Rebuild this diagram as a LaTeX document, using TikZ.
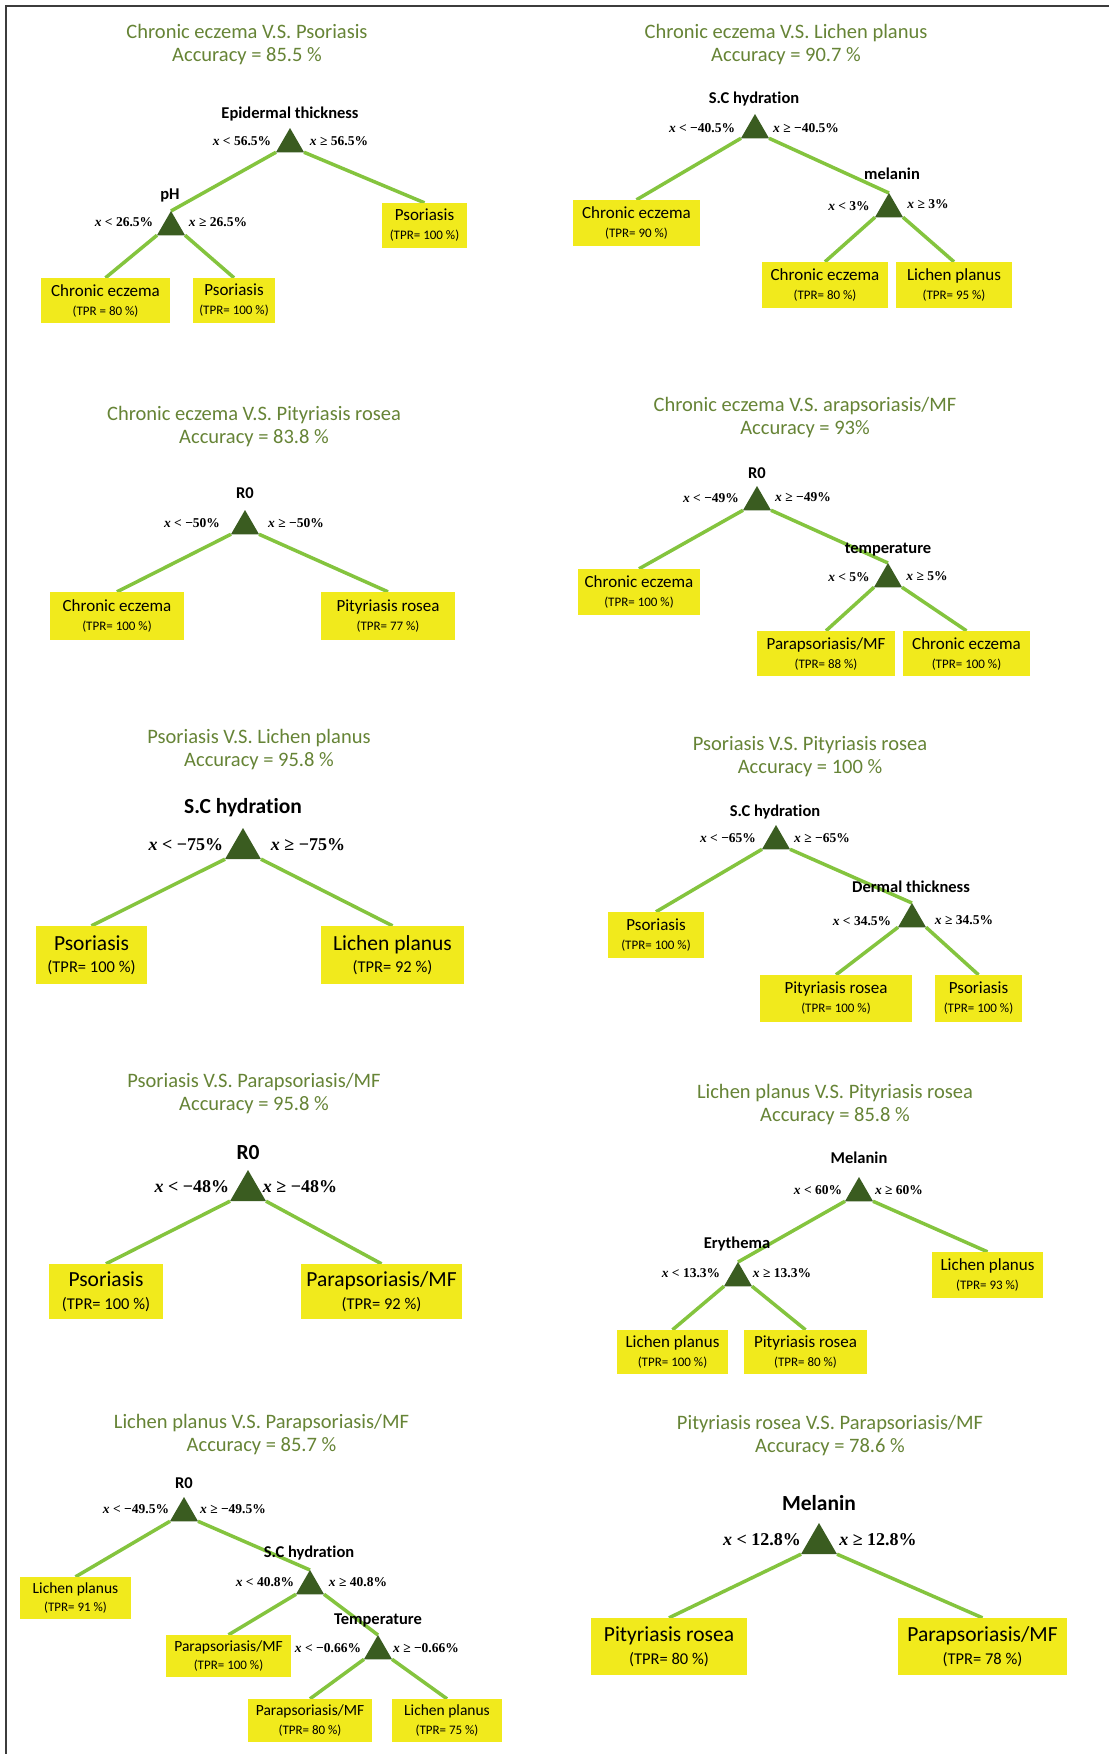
\documentclass[tikz,border=0pt]{standalone}
\usepackage{fontspec}
\setmainfont{Carlito}[Ligatures={NoCommon}]
\newfontfamily\thrfont{Liberation Serif}
\usetikzlibrary{shapes.geometric,backgrounds}
\definecolor{ttlgreen}{RGB}{102,132,54}
\definecolor{dkgreen}{RGB}{58,92,32}
\definecolor{edgegreen}{RGB}{132,196,62}
\definecolor{leafyellow}{RGB}{241,234,28}
\definecolor{framegray}{RGB}{60,60,60}
\newcommand{\xlt}[1]{\textit{x} < #1}
\newcommand{\xge}[1]{\textit{x} ≥ #1}
\newcommand{\leafTxt}[2]{#1\\{\fontsize{13}{19}\selectfont #2}}
\newcommand{\leafTxtL}[2]{#1\\{\fontsize{16.5}{22.5}\selectfont #2}}
\begin{document}
\begin{tikzpicture}[x=1pt,y=-1pt,
  ttl/.style={text=ttlgreen, font=\fontsize{20.5}{23}\selectfont, align=center, inner sep=0pt},
  attr/.style={font=\bfseries\fontsize{16.5}{18}\selectfont, inner sep=0pt},
  attrL/.style={font=\bfseries\fontsize{21.5}{23}\selectfont, inner sep=0pt},
  thr/.style={font=\thrfont\bfseries\fontsize{13.5}{15}\selectfont, inner sep=0pt},
  thrL/.style={font=\thrfont\bfseries\fontsize{18}{20}\selectfont, inner sep=0pt},
  tri/.style={regular polygon, regular polygon sides=3, fill=dkgreen, inner sep=0pt, outer sep=0pt, minimum size=32.33pt, anchor=corner 1},
  triL/.style={tri, minimum size=41.57pt},
  leaf/.style={fill=leafyellow, inner sep=0pt, align=center, font=\fontsize{17}{19}\selectfont},
  leafS/.style={leaf, font=\fontsize{15.5}{18.5}\selectfont},
  leafL/.style={fill=leafyellow, inner sep=0pt, align=center, font=\fontsize{21.5}{22.5}\selectfont},
  edge/.style={draw=edgegreen, line width=3.5pt},
  frame/.style={draw=framegray, line width=2pt}
]
\useasboundingbox (0,0) rectangle (1109,1754);
\begin{scope}[on background layer]
\fill[white] (0,0) rectangle (1109,1754);
\end{scope}
\draw[frame] (6,1754) -- (6,6) -- (1109,6);

% ---------- Tree 1 ----------
\node[ttl] (ttl1) at (247,44.5) {Chronic eczema V.S. Psoriasis\\Accuracy = 85.5 \%};
\node[attr] (a1a) at (290,114) {Epidermal thickness};
\node[tri] (t1a) at (290,128) {};
\node[thr] (c1a) at (242,141) {\xlt{56.5\%}};
\node[thr] (c1b) at (339,141) {\xge{56.5\%}};
\node[attr] (a1b) at (170,195) {pH};
\node[tri] (t1b) at (171,211) {};
\node[thr] (c1c) at (124,222) {\xlt{26.5\%}};
\node[thr] (c1d) at (218,222) {\xge{26.5\%}};
\node[leaf, minimum width=129, minimum height=45] (l1a) at (105.5,300.5) {\leafTxt{Chronic eczema}{(TPR = 80 \%)}};
\node[leaf, minimum width=82, minimum height=45] (l1b) at (234,300.5) {\leafTxt{Psoriasis}{(TPR= 100 \%)}};
\node[leaf, minimum width=85, minimum height=45] (l1c) at (424.5,225.5) {\leafTxt{Psoriasis}{(TPR= 100 \%)}};

% ---------- Tree 2 ----------
\node[ttl] (ttl2) at (786,44.5) {Chronic eczema V.S. Lichen planus\\Accuracy = 90.7 \%};
\node[attr] (a2a) at (754,99) {S.C hydration};
\node[tri] (t2a) at (755,114) {};
\node[thr] (c2a) at (702,128) {\xlt{−40.5\%}};
\node[thr] (c2b) at (806,128) {\xge{−40.5\%}};
\node[attr] (a2b) at (892,174) {melanin};
\node[tri] (t2b) at (889,193) {};
\node[thr] (c2c) at (849,206) {\xlt{3\%}};
\node[thr] (c2d) at (928,204) {\xge{3\%}};
\node[leaf, minimum width=127, minimum height=46] (l2a) at (636.5,223) {\leafTxt{Chronic eczema}{(TPR= 90 \%)}};
\node[leaf, minimum width=126, minimum height=46] (l2b) at (825,285) {\leafTxt{Chronic eczema}{(TPR= 80 \%)}};
\node[leaf, minimum width=116, minimum height=46] (l2c) at (954,285) {\leafTxt{Lichen planus}{(TPR= 95 \%)}};

% ---------- Tree 3 ----------
\node[ttl] (ttl3) at (254,427) {Chronic eczema V.S. Pityriasis rosea\\Accuracy = 83.8 \%};
\node[attr] (a3a) at (245,493) {R0};
\node[tri] (t3a) at (245,510) {};
\node[thr] (c3a) at (192,523) {\xlt{−50\%}};
\node[thr] (c3b) at (296,523) {\xge{−50\%}};
\node[leaf, minimum width=134, minimum height=48] (l3a) at (117,616) {\leafTxt{Chronic eczema}{(TPR= 100 \%)}};
\node[leaf, minimum width=134, minimum height=48] (l3b) at (388,616) {\leafTxt{Pityriasis rosea}{(TPR= 77 \%)}};

% ---------- Tree 4 ----------
\node[ttl] (ttl4) at (805,417.5) {Chronic eczema V.S. arapsoriasis/MF\\Accuracy = 93\%};
\node[attr] (a4a) at (757,473) {R0};
\node[tri] (t4a) at (757,486) {};
\node[thr] (c4a) at (711,498) {\xlt{−49\%}};
\node[thr] (c4b) at (803,497) {\xge{−49\%}};
\node[attr] (a4b) at (888,550) {temperature};
\node[tri] (t4b) at (888,563) {};
\node[thr] (c4c) at (849,577) {\xlt{5\%}};
\node[thr] (c4d) at (927,576) {\xge{5\%}};
\node[leaf, minimum width=122, minimum height=46] (l4a) at (639,592) {\leafTxt{Chronic eczema}{(TPR= 100 \%)}};
\node[leaf, minimum width=138, minimum height=45] (l4b) at (826,653.5) {\leafTxt{Parapsoriasis/MF}{(TPR= 88 \%)}};
\node[leaf, minimum width=127, minimum height=45] (l4c) at (966.5,653.5) {\leafTxt{Chronic eczema}{(TPR= 100 \%)}};

% ---------- Tree 5 ----------
\node[ttl] (ttl5) at (259,749.5) {Psoriasis V.S. Lichen planus\\Accuracy = 95.8 \%};
\node[attrL] (a5a) at (243,808) {S.C hydration};
\node[triL] (t5a) at (243,828) {};
\node[thrL] (c5a) at (186,845) {\xlt{−75\%}};
\node[thrL] (c5b) at (308,845) {\xge{−75\%}};
\node[leafL, minimum width=111, minimum height=58] (l5a) at (91.5,955) {\leafTxtL{Psoriasis}{(TPR= 100 \%)}};
\node[leafL, minimum width=143, minimum height=58] (l5b) at (392.5,955) {\leafTxtL{Lichen planus}{(TPR= 92 \%)}};

% ---------- Tree 6 ----------
\node[ttl] (ttl6) at (810,757) {Psoriasis V.S. Pityriasis rosea\\Accuracy = 100 \%};
\node[attr] (a6a) at (775,812) {S.C hydration};
\node[tri] (t6a) at (776,825) {};
\node[thr] (c6a) at (728,838) {\xlt{−65\%}};
\node[thr] (c6b) at (822,838) {\xge{−65\%}};
\node[attr] (a6b) at (911,887) {Dermal thickness};
\node[tri] (t6b) at (912,903) {};
\node[thr] (c6c) at (862,921) {\xlt{34.5\%}};
\node[thr] (c6d) at (964,920) {\xge{34.5\%}};
\node[leaf, minimum width=96, minimum height=46] (l6a) at (656,935) {\leafTxt{Psoriasis}{(TPR= 100 \%)}};
\node[leaf, minimum width=152, minimum height=47] (l6b) at (836,998.5) {\leafTxt{Pityriasis rosea}{(TPR= 100 \%)}};
\node[leaf, minimum width=87, minimum height=47] (l6c) at (978.5,998.5) {\leafTxt{Psoriasis}{(TPR= 100 \%)}};

% ---------- Tree 7 ----------
\node[ttl] (ttl7) at (254,1094) {Psoriasis V.S. Parapsoriasis/MF\\Accuracy = 95.8 \%};
\node[attrL] (a7a) at (248,1153) {R0};
\node[triL] (t7a) at (248,1170) {};
\node[thrL] (c7a) at (192,1187) {\xlt{−48\%}};
\node[thrL] (c7b) at (300,1187) {\xge{−48\%}};
\node[leafL, minimum width=114, minimum height=55] (l7a) at (106,1291.5) {\leafTxtL{Psoriasis}{(TPR= 100 \%)}};
\node[leafL, minimum width=161, minimum height=55] (l7b) at (381.5,1291.5) {\leafTxtL{Parapsoriasis/MF}{(TPR= 92 \%)}};

% ---------- Tree 8 ----------
\node[ttl] (ttl8) at (835,1104.5) {Lichen planus V.S. Pityriasis rosea\\Accuracy = 85.8 \%};
\node[attr] (a8a) at (859,1158) {Melanin};
\node[tri] (t8a) at (859,1177) {};
\node[thr] (c8a) at (818,1190) {\xlt{60\%}};
\node[thr] (c8b) at (899,1190) {\xge{60\%}};
\node[attr] (a8b) at (737,1244) {Erythema};
\node[tri] (t8b) at (738,1262) {};
\node[thr] (c8c) at (691,1273) {\xlt{13.3\%}};
\node[thr] (c8d) at (782,1273) {\xge{13.3\%}};
\node[leaf, minimum width=111, minimum height=46] (l8a) at (987.5,1275) {\leafTxt{Lichen planus}{(TPR= 93 \%)}};
\node[leaf, minimum width=111, minimum height=44] (l8b) at (672.5,1352) {\leafTxt{Lichen planus}{(TPR= 100 \%)}};
\node[leaf, minimum width=123, minimum height=44] (l8c) at (805.5,1352) {\leafTxt{Pityriasis rosea}{(TPR= 80 \%)}};

% ---------- Tree 9 ----------
\node[ttl] (ttl9) at (261.5,1434.5) {Lichen planus V.S. Parapsoriasis/MF\\Accuracy = 85.7 \%};
\node[attr] (a9a) at (184,1483) {R0};
\node[tri] (t9a) at (184,1497) {};
\node[thr] (c9a) at (136,1509) {\xlt{−49.5\%}};
\node[thr] (c9b) at (233,1509) {\xge{−49.5\%}};
\node[attr] (a9b) at (309,1553) {S.C hydration};
\node[tri] (t9b) at (310,1570) {};
\node[thr] (c9c) at (265,1582) {\xlt{40.8\%}};
\node[thr] (c9d) at (358,1582) {\xge{40.8\%}};
\node[attr] (a9c) at (378,1620) {Temperature};
\node[tri] (t9c) at (378,1635) {};
\node[thr] (c9e) at (328,1648) {\xlt{−0.66\%}};
\node[thr] (c9f) at (426,1648) {\xge{−0.66\%}};
\node[leafS, minimum width=111, minimum height=42] (l9a) at (75.5,1598) {\leafTxt{Lichen planus}{(TPR= 91 \%)}};
\node[leafS, minimum width=125, minimum height=42] (l9b) at (228.5,1656) {\leafTxt{Parapsoriasis/MF}{(TPR= 100 \%)}};
\node[leafS, minimum width=124, minimum height=43] (l9c) at (310,1720.5) {\leafTxt{Parapsoriasis/MF}{(TPR= 80 \%)}};
\node[leafS, minimum width=110, minimum height=43] (l9d) at (447,1720.5) {\leafTxt{Lichen planus}{(TPR= 75 \%)}};

% ---------- Tree 10 ----------
\node[ttl] (ttl10) at (830,1435.5) {Pityriasis rosea V.S. Parapsoriasis/MF\\Accuracy = 78.6 \%};
\node[attrL] (a10a) at (819,1503) {Melanin};
\node[triL] (t10a) at (819,1523) {};
\node[thrL] (c10a) at (762,1540) {\xlt{12.8\%}};
\node[thrL] (c10b) at (878,1540) {\xge{12.8\%}};
\node[leafL, minimum width=156, minimum height=57] (l10a) at (669,1646.5) {\leafTxtL{Pityriasis rosea}{(TPR= 80 \%)}};
\node[leafL, minimum width=169, minimum height=57] (l10b) at (982.5,1646.5) {\leafTxtL{Parapsoriasis/MF}{(TPR= 78 \%)}};

% ---------- connectors ----------
\begin{scope}[on background layer]
\draw[edge] (t1a.corner 2) -- (t1b.corner 1);
\draw[edge] (t1a.corner 3) -- (l1c.north);
\draw[edge] (t1b.corner 2) -- (l1a.north);
\draw[edge] (t1b.corner 3) -- (l1b.north);

\draw[edge] (t2a.corner 2) -- (l2a.north);
\draw[edge] (t2a.corner 3) -- (t2b.corner 1);
\draw[edge] (t2b.corner 2) -- (l2b.north);
\draw[edge] (t2b.corner 3) -- (l2c.north);

\draw[edge] (t3a.corner 2) -- (l3a.north);
\draw[edge] (t3a.corner 3) -- (l3b.north);

\draw[edge] (t4a.corner 2) -- (l4a.north);
\draw[edge] (t4a.corner 3) -- (t4b.corner 1);
\draw[edge] (t4b.corner 2) -- (l4b.north);
\draw[edge] (t4b.corner 3) -- (l4c.north);

\draw[edge] (t5a.corner 2) -- (l5a.north);
\draw[edge] (t5a.corner 3) -- (l5b.north);

\draw[edge] (t6a.corner 2) -- (l6a.north);
\draw[edge] (t6a.corner 3) -- (t6b.corner 1);
\draw[edge] (t6b.corner 2) -- (l6b.north);
\draw[edge] (t6b.corner 3) -- (l6c.north);

\draw[edge] (t7a.corner 2) -- (l7a.north);
\draw[edge] (t7a.corner 3) -- (l7b.north);

\draw[edge] (t8a.corner 2) -- (t8b.corner 1);
\draw[edge] (t8a.corner 3) -- (l8a.north);
\draw[edge] (t8b.corner 2) -- (l8b.north);
\draw[edge] (t8b.corner 3) -- (l8c.north);

\draw[edge] (t9a.corner 2) -- (l9a.north);
\draw[edge] (t9a.corner 3) -- (t9b.corner 1);
\draw[edge] (t9b.corner 2) -- (l9b.north);
\draw[edge] (t9b.corner 3) -- (t9c.corner 1);
\draw[edge] (t9c.corner 2) -- (l9c.north);
\draw[edge] (t9c.corner 3) -- (l9d.north);

\draw[edge] (t10a.corner 2) -- (l10a.north);
\draw[edge] (t10a.corner 3) -- (l10b.north);
\end{scope}
\end{tikzpicture}
\end{document}
